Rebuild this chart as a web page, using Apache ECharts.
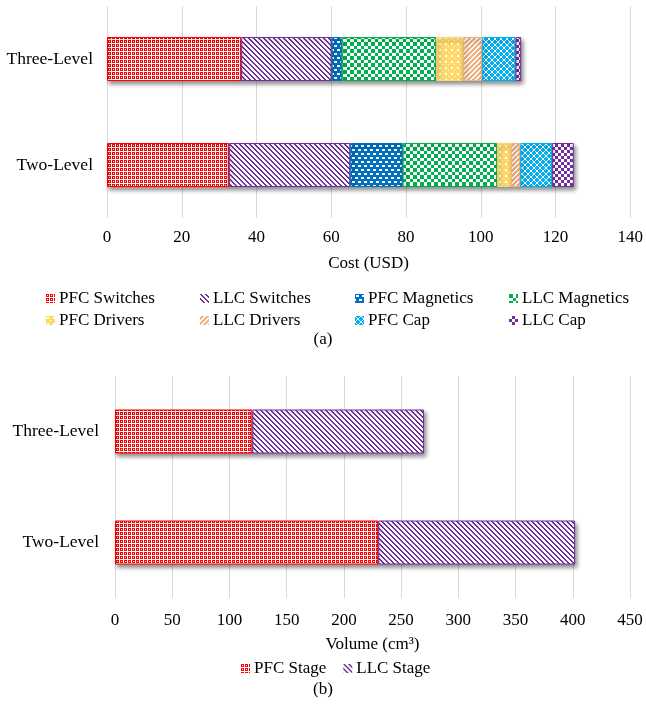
<!DOCTYPE html>
<html>
<head>
<meta charset="utf-8">
<script src="https://cdn.jsdelivr.net/npm/echarts@6/dist/echarts.min.js"></script>
<style>
  html, body { margin: 0; padding: 0; background: #fff; }
  #chart { width: 646px; height: 712px; }
</style>
</head>
<body>
<div id="chart"></div>
<script>
// ---- (a) cost breakdown, USD ----
const costCategories = ['Two-Level', 'Three-Level'];
const costNames = ['PFC Switches', 'LLC Switches', 'PFC Magnetics', 'LLC Magnetics',
                   'PFC Drivers', 'LLC Drivers', 'PFC Cap', 'LLC Cap'];
const pfcSwitches  = [32.6, 35.9];
const llcSwitches  = [32.5, 24.2];
const pfcMagnetics = [14.0, 2.7];
const llcMagnetics = [25.3, 25.3];
const pfcDrivers   = [3.7, 7.2];
const llcDrivers   = [2.5, 5.1];
const pfcCap       = [8.5, 8.9];
const llcCap       = [5.8, 1.5];
const costTicks = [0, 20, 40, 60, 80, 100, 120, 140];

// ---- (b) volume breakdown, cm3 ----
const volumeCategories = ['Two-Level', 'Three-Level'];
const volumeNames = ['PFC Stage', 'LLC Stage'];
const pfcStage = [230, 120];
const llcStage = [172, 150];
const volumeTicks = [0, 50, 100, 150, 200, 250, 300, 350, 400, 450];

// Small repeating tiles used as bar fills
function tile(w, h, bg, draw) {
  const c = document.createElement('canvas');
  c.width = w; c.height = h;
  const g = c.getContext('2d');
  g.fillStyle = bg; g.fillRect(0, 0, w, h);
  draw(g);
  return c;
}
function px(g, color, list) {
  g.fillStyle = color;
  list.forEach(r => g.fillRect(r[0], r[1], r[2] || 1, r[3] || 1));
}

const RED = '#FF0000', PURPLE = '#7030A0', BLUE = '#0070C0', GREEN = '#00B050',
      YELLOW = '#FFD966', ORANGE = '#F4B183', CYAN = '#00B0F0', WHITE = '#FFFFFF';

const patRed = tile(4, 4, WHITE, g => { px(g, RED, [[0, 0, 3, 3]]); px(g, WHITE, [[1, 1]]); });
const patPurpleDiag = tile(5, 5, WHITE, g => {
  const l = []; for (let i = 0; i < 5; i++) { l.push([i, i]); l.push([(i + 1) % 5, i]); }
  px(g, PURPLE, l);
});
const patBlue = tile(6, 8, BLUE, g => px(g, WHITE, [[1, 1, 3, 2], [4, 5, 2, 2], [0, 5, 1, 2]]));
const patGreen = tile(7, 7, WHITE, g => px(g, GREEN, [[0, 0, 4, 4], [4, 4, 3, 3]]));
const patYellow = tile(6, 6, YELLOW, g => px(g, WHITE, [[1, 1, 2, 2], [4, 4, 1, 1]]));
const patOrange = tile(5, 5, ORANGE, g => {
  const l = []; for (let i = 0; i < 5; i++) { l.push([4 - i, i]); l.push([(5 - i) % 5, i]); }
  px(g, WHITE, l);
});
const patCyan = tile(6, 6, CYAN, g => {
  const l = []; for (let i = 0; i < 6; i++) { l.push([i, i]); l.push([5 - i, i]); }
  px(g, WHITE, l);
});
const patPurpleCheck = tile(6, 6, PURPLE, g => px(g, WHITE, [[0, 0, 3, 3], [3, 3, 3, 3]]));

function fill(canvas) { return { image: canvas, repeat: 'repeat' }; }

const FONT = 'Liberation Serif';
const shadow = { shadowColor: 'rgba(0,0,0,0.45)', shadowBlur: 4, shadowOffsetX: 2, shadowOffsetY: 3 };

function bar(name, data, pattern, edge, gridIdx) {
  return {
    name, type: 'bar', stack: 'total' + gridIdx, data,
    xAxisIndex: gridIdx, yAxisIndex: gridIdx,
    barWidth: 44,
    itemStyle: Object.assign({ color: fill(pattern), borderColor: edge, borderWidth: 1 }, shadow),
    emphasis: { disabled: true }
  };
}

const costSeries = [
  bar(costNames[0], pfcSwitches, patRed, RED, 0),
  bar(costNames[1], llcSwitches, patPurpleDiag, PURPLE, 0),
  bar(costNames[2], pfcMagnetics, patBlue, BLUE, 0),
  bar(costNames[3], llcMagnetics, patGreen, GREEN, 0),
  bar(costNames[4], pfcDrivers, patYellow, YELLOW, 0),
  bar(costNames[5], llcDrivers, patOrange, ORANGE, 0),
  bar(costNames[6], pfcCap, patCyan, CYAN, 0),
  bar(costNames[7], llcCap, patPurpleCheck, PURPLE, 0)
];
const volumeSeries = [
  bar(volumeNames[0], pfcStage, patRed, RED, 1),
  bar(volumeNames[1], llcStage, patPurpleDiag, PURPLE, 1)
];

const labelStyle = { color: '#000', fontFamily: FONT, fontSize: 17 };

function valueAxis(gridIndex, ticks, name, nameGap, margin) {
  return {
    type: 'value', gridIndex,
    min: ticks[0], max: ticks[ticks.length - 1], interval: ticks[1] - ticks[0],
    name, nameLocation: 'middle', nameGap,
    nameTextStyle: labelStyle,
    axisLine: { show: false }, axisTick: { show: false },
    axisLabel: Object.assign({ margin }, labelStyle),
    splitLine: { lineStyle: { color: '#D9D9D9', width: 1 } }
  };
}
function catAxis(gridIndex, cats, margin) {
  return {
    type: 'category', gridIndex, data: cats,
    axisLine: { show: false }, axisTick: { show: false },
    axisLabel: Object.assign({ margin }, labelStyle, { fontSize: 17.5 })
  };
}

function legendColumn(left, names) {
  return {
    orient: 'vertical', left, top: 285, data: names,
    icon: 'rect', itemWidth: 9, itemHeight: 9, itemGap: 5,
    selectedMode: false,
    itemStyle: { borderWidth: 0, shadowBlur: 0, shadowOffsetX: 0, shadowOffsetY: 0 },
    textStyle: Object.assign({ padding: [0, 0, 0, -1], lineHeight: 17 }, labelStyle)
  };
}

const chart = echarts.init(document.getElementById('chart'), null, { renderer: 'canvas' });
chart.setOption({
  animation: false,
  backgroundColor: '#fff',
  grid: [
    { left: 107, right: 15, top: 6, height: 212 },
    { left: 115, right: 16, top: 376, height: 222 }
  ],
  xAxis: [
    valueAxis(0, costTicks, 'Cost (USD)', 37, 11),
    valueAxis(1, volumeTicks, 'Volume (cm³)', 38, 14)
  ],
  yAxis: [
    catAxis(0, costCategories, 14),
    catAxis(1, volumeCategories, 16)
  ],
  legend: [
    legendColumn(41, [costNames[0], costNames[4]]),
    legendColumn(195, [costNames[1], costNames[5]]),
    legendColumn(350, [costNames[2], costNames[6]]),
    legendColumn(504, [costNames[3], costNames[7]]),
    Object.assign(legendColumn(236, volumeNames), { orient: 'horizontal', top: 655, itemGap: 17 })
  ],
  graphic: [
    { type: 'text', left: 'center', top: 331, style: { text: '(a)', font: '17px "Liberation Serif"', fill: '#000' } },
    { type: 'text', left: 'center', top: 681, style: { text: '(b)', font: '17px "Liberation Serif"', fill: '#000' } }
  ],
  series: costSeries.concat(volumeSeries)
});
</script>
</body>
</html>
